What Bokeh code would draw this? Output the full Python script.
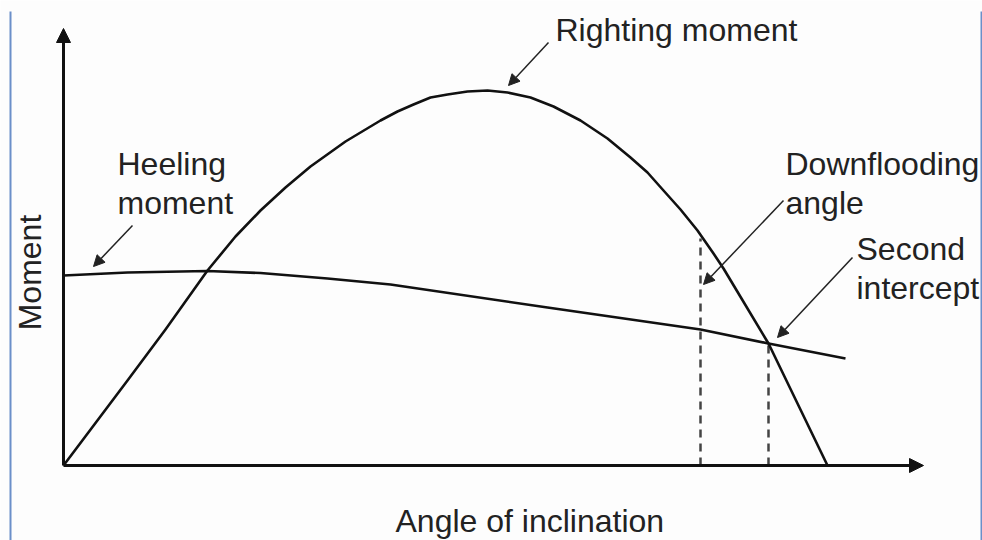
from bokeh.plotting import figure
from bokeh.models import Range1d, Arrow, NormalHead, ColumnDataSource
from bokeh.core.properties import value
from bokeh.embed import file_html
from bokeh.resources import INLINE
import math

# ---- data (angle units, moment units) ----
righting_angle = [0, 6.4, 10.2, 14.4, 17.2, 19.7, 22.2, 24.7, 28.2, 31.7, 33.4, 35.0, 36.7, 38.4, 40.4,
                  42.4, 44.4, 46.7, 49.0, 51.7, 54.4, 56.7, 58.4, 60.0, 61.7, 63.4, 65.0, 66.0, 67.5, 70.5, 76.4]
righting_moment = [0, 8.5, 13.6, 19.5, 22.9, 25.5, 27.8, 29.9, 32.4, 34.5, 35.4, 36.1, 36.8, 37.1, 37.4,
                   37.5, 37.3, 36.8, 35.9, 34.5, 32.7, 30.8, 29.3, 27.5, 25.6, 23.5, 21.2, 19.7, 17.2, 12.2, 0]

heeling_angle = [0, 6.4, 14.4, 19.7, 26.4, 32.7, 48.4, 63.7, 70.5, 78.2]
heeling_moment = [19.0, 19.3, 19.45, 19.25, 18.7, 18.1, 15.8, 13.6, 12.2, 10.7]

marker_angle = [63.7, 70.5]          # downflooding angle, second intercept
marker_moment = [22.7, 12.2]

axis_x_end = 86.0
axis_y_end = 43.7

labels = ["Righting moment", "Heeling", "moment", "Downflooding", "angle", "Second", "intercept"]
label_x = [49.2, 5.4, 5.4, 72.2, 72.2, 79.3, 79.3]
label_y = [43.6, 30.2, 26.3, 30.2, 26.3, 21.7, 17.8]

# annotation arrows: (start x, start y, end x, end y)
ann_x0 = [48.5, 6.9, 72.0, 78.9]
ann_y0 = [42.3, 24.0, 26.5, 20.8]
ann_x1 = [44.5, 3.0, 64.0, 71.4]
ann_y1 = [38.0, 19.9, 18.1, 12.8]

x_title = "Angle of inclination"
y_title = "Moment"

# ---- figure ----
p = figure(width=982, height=540, output_backend="svg", toolbar_location=None,
           x_range=Range1d(-6.3, 91.9), y_range=Range1d(-7.5, 46.5),
           min_border=0, background_fill_color="#fdfdfd", border_fill_color="white")
p.outline_line_color = None
p.xaxis.visible = False
p.yaxis.visible = False
p.grid.visible = False

# image frame blue edges
p.segment(x0=[-5.3, 91.8], y0=[-7.5, -7.5], x1=[-5.3, 91.8], y1=[45.4, 45.4],
          line_color="#6b8fc9", line_width=2)

# dashed markers
p.segment(x0=marker_angle, y0=[0, 0], x1=marker_angle, y1=marker_moment,
          line_color="#444444", line_width=2.5, line_dash="8 6")

# curves
p.line(heeling_angle, heeling_moment, line_color="#111111", line_width=2.6, line_join="round")
p.line(righting_angle, righting_moment, line_color="#111111", line_width=2.6, line_join="round")

# axes with arrow heads
p.add_layout(Arrow(x_start=0, y_start=0, x_end=axis_x_end, y_end=0, line_width=3, line_color="#111111",
                   end=NormalHead(size=14, fill_color="#111111", line_color="#111111")))
p.add_layout(Arrow(x_start=0, y_start=0, x_end=0, y_end=axis_y_end, line_width=3, line_color="#111111",
                   end=NormalHead(size=14, fill_color="#111111", line_color="#111111")))

# annotation arrows
for a, b, c, d in zip(ann_x0, ann_y0, ann_x1, ann_y1):
    p.add_layout(Arrow(x_start=a, y_start=b, x_end=c, y_end=d, line_width=1.5, line_color="#222222",
                       end=NormalHead(size=11, fill_color="#222222", line_color="#222222")))

src = ColumnDataSource(dict(x=label_x, y=label_y, t=labels))
p.text(x="x", y="y", text="t", source=src, text_font=value("Liberation Sans"),
       text_font_size="32px", text_color="#222222", text_align="left", text_baseline="alphabetic")

p.text(x=[33.2], y=[-5.5], text=[x_title], text_font=value("Liberation Sans"),
       text_font_size="32px", text_color="#222222", text_align="left", text_baseline="alphabetic")
p.text(x=[-3.4], y=[19.3], text=[y_title], angle=math.pi / 2, text_font=value("Liberation Sans"),
       text_font_size="32px", text_color="#222222", text_align="center", text_baseline="alphabetic")

open("out.html", "w").write(file_html(p, INLINE))
